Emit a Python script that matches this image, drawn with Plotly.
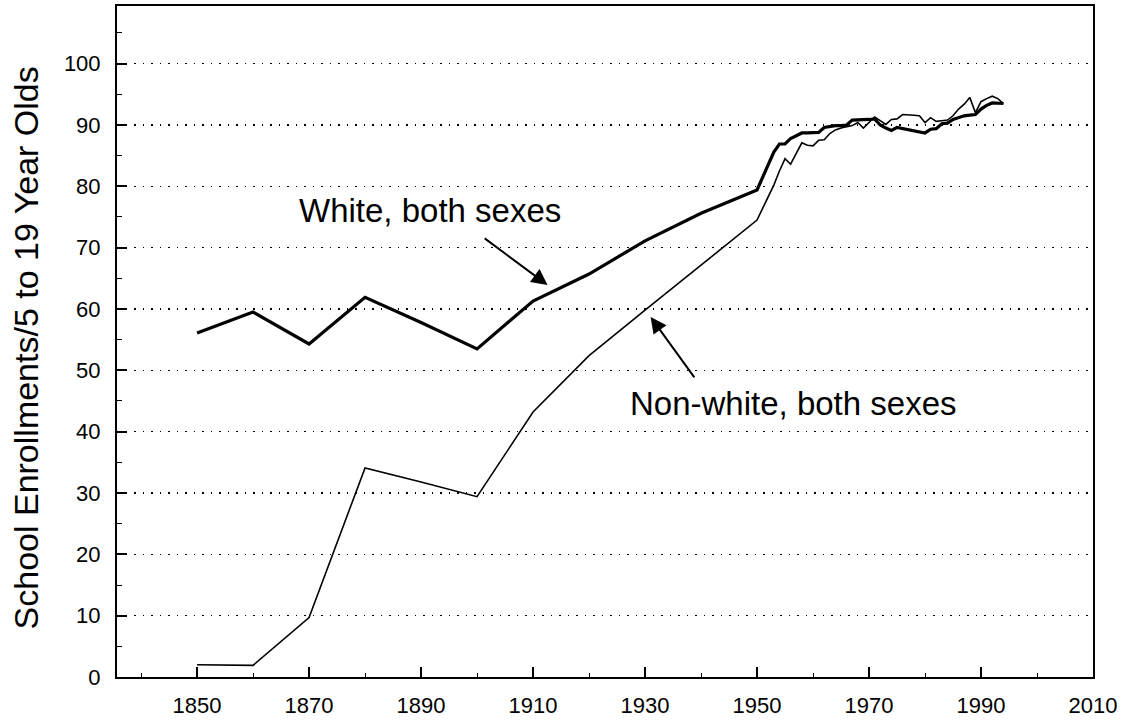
import plotly.graph_objects as go

# ---- data ----
decade_years = [1850, 1860, 1870, 1880, 1890, 1900, 1910, 1920, 1930, 1940]
white_decade = [56.1, 59.5, 54.3, 61.9, 57.8, 53.5, 61.3, 65.7, 71.1, 75.6]
nonwhite_decade = [2.0, 1.9, 9.7, 34.1, 31.8, 29.4, 43.2, 52.4, 59.8, 67.2]

annual_years = list(range(1950, 1995))
white_annual = [79.4, 81.5, 83.6, 85.6, 86.9, 86.9, 87.8, 88.3, 88.7, 88.7,
                88.7, 88.8, 89.6, 89.8, 89.9, 89.9, 90.0, 90.8, 90.8, 90.9,
                90.9, 91.0, 90.0, 89.5, 89.1, 89.6, 89.4, 89.2, 89.0, 88.8,
                88.7, 89.3, 89.4, 90.2, 90.3, 90.9, 91.2, 91.5, 91.6, 91.7,
                92.6, 93.2, 93.6, 93.6, 93.5]
nonwhite_annual = [74.5, 76.4, 78.3, 80.2, 82.5, 84.5, 83.6, 85.4, 87.1, 86.7,
                   86.6, 87.5, 87.6, 88.6, 89.2, 89.5, 89.7, 89.9, 90.4, 89.5,
                   90.4, 91.3, 90.7, 90.1, 90.9, 91.0, 91.7, 91.7, 91.6, 91.5,
                   90.4, 91.2, 90.6, 90.7, 90.8, 91.5, 92.6, 93.4, 94.5, 92.0,
                   93.8, 94.3, 94.7, 94.3, 93.5]

years = decade_years + annual_years
white = white_decade + white_annual
nonwhite = nonwhite_decade + nonwhite_annual

x_major = [1850, 1870, 1890, 1910, 1930, 1950, 1970, 1990, 2010]
x_minor = [1840, 1860, 1880, 1900, 1920, 1940, 1960, 1980, 2000]
y_major = list(range(0, 101, 10))

label_white = "White, both sexes"
label_nonwhite = "Non-white, both sexes"
y_title = "School Enrollments/5 to 19 Year Olds"

FONT = "Liberation Sans, Arial, sans-serif"

fig = go.Figure()
fig.add_trace(go.Scatter(x=years, y=nonwhite, mode="lines",
                         line=dict(color="black", width=1.6),
                         showlegend=False, hoverinfo="skip"))
fig.add_trace(go.Scatter(x=years, y=white, mode="lines",
                         line=dict(color="black", width=3.2),
                         showlegend=False, hoverinfo="skip"))

fig.update_layout(
    width=1137, height=723,
    margin=dict(l=117, r=44, t=6, b=46),
    paper_bgcolor="white", plot_bgcolor="white",
    font=dict(family=FONT, color="black", size=22),
    showlegend=False,
)

fig.update_xaxes(
    range=[1835.7, 2010], tickvals=x_major, ticktext=[str(v) for v in x_major],
    ticks="inside", ticklen=10, tickwidth=2, tickcolor="black",
    minor=dict(tickvals=x_minor, ticks="inside", ticklen=4, tickwidth=1, tickcolor="black"),
    showline=True, linewidth=2, linecolor="black", mirror=True,
    showgrid=False, zeroline=False, ticklabelstandoff=8, automargin=False,
    tickfont=dict(size=22, family=FONT),
)
fig.update_yaxes(
    range=[0, 109.4], tickvals=y_major, ticktext=[str(v) for v in y_major],
    ticks="inside", ticklen=10, tickwidth=2, tickcolor="black",
    minor=dict(dtick=5, tick0=0, ticks="inside", ticklen=5, tickwidth=1, tickcolor="black"),
    showline=True, linewidth=2, linecolor="black", mirror=True,
    showgrid=True, gridcolor="black", gridwidth=1.5, griddash="1.5px,7px",
    zeroline=False, ticklabelstandoff=10, automargin=False,
    tickfont=dict(size=22, family=FONT),
)

# axis title
fig.add_annotation(text=y_title, xref="paper", yref="paper", x=-0.093, y=0.49,
                   textangle=-90, showarrow=False, xanchor="center", yanchor="middle",
                   font=dict(size=34, family=FONT))

# labels
fig.add_annotation(text=label_white, xref="x", yref="y", x=1891.6, y=76.0,
                   showarrow=False, xanchor="center", yanchor="middle",
                   font=dict(size=33, family=FONT))
fig.add_annotation(text=label_nonwhite, xref="x", yref="y", x=1956.5, y=44.6,
                   showarrow=False, xanchor="center", yanchor="middle",
                   font=dict(size=33, family=FONT))

# arrows
fig.add_annotation(text="", xref="x", yref="y", x=1912.6, y=63.9,
                   axref="x", ayref="y", ax=1901.1, ay=71.7,
                   showarrow=True, arrowhead=2, arrowsize=1.6, arrowwidth=2,
                   arrowcolor="black", standoff=0)
fig.add_annotation(text="", xref="x", yref="y", x=1931.0, y=58.7,
                   axref="x", ayref="y", ax=1939.0, ay=48.6,
                   showarrow=True, arrowhead=2, arrowsize=1.6, arrowwidth=2,
                   arrowcolor="black", standoff=0)

fig.write_html("out.html",
               config={"displayModeBar": False, "staticPlot": True},
               post_script="document.body.style.margin='0';document.body.style.overflow='hidden';")
